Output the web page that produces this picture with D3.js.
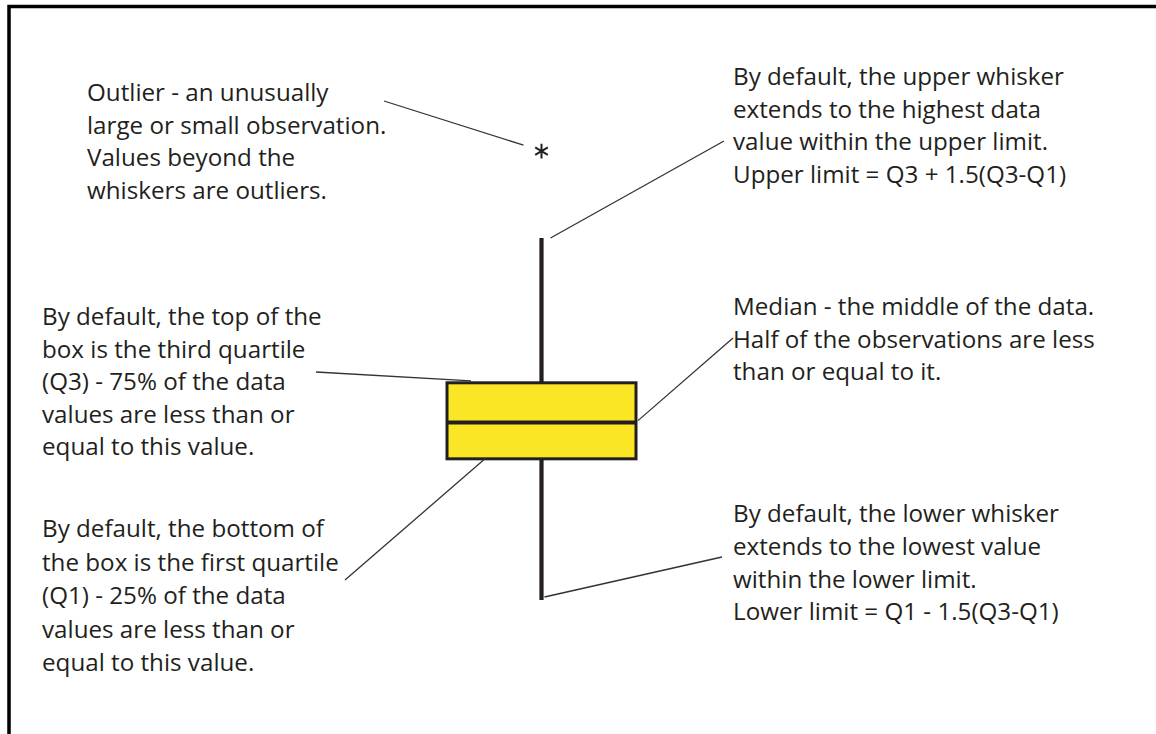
<!DOCTYPE html>
<html>
<head>
<meta charset="utf-8">
<script src="https://d3js.org/d3.v7.min.js"></script>
<style>
  body { margin: 0; background: #fff; }
  text { font-family: "Open Sans", sans-serif; font-size: 24.2px; fill: #231f20; }
</style>
</head>
<body>
<div id="boxplot"></div>
<script>
// values of the schematic box plot
const categories = ["data"];
const lowWhisker = [0];
const q1 = [39];
const median = [49];
const q3 = [60];
const highWhisker = [100];
const outliers = [124];

const width = 1156, height = 734;

const svg = d3.select("#boxplot").append("svg")
  .attr("width", width)
  .attr("height", height);

// frame: top and left edges only
svg.append("path")
  .attr("d", `M9,${height} V6.5 H${width}`)
  .attr("fill", "none")
  .attr("stroke", "#000")
  .attr("stroke-width", 3.5);

const x = d3.scaleBand().domain(categories).range([447, 636]).padding(0);
const y = d3.scaleLinear().domain([0, 100]).range([600, 238]);

const cx = x(categories[0]) + x.bandwidth() / 2;
const left = x(categories[0]), right = left + x.bandwidth();

const g = svg.append("g");

// whisker
g.append("line")
  .attr("x1", cx).attr("x2", cx)
  .attr("y1", y(lowWhisker[0])).attr("y2", y(highWhisker[0]))
  .attr("stroke", "#231f20")
  .attr("stroke-width", 4.2);

// box
g.append("rect")
  .attr("x", left)
  .attr("y", y(q3[0]))
  .attr("width", x.bandwidth())
  .attr("height", y(q1[0]) - y(q3[0]))
  .attr("fill", "#fbe626")
  .attr("stroke", "#231f20")
  .attr("stroke-width", 3);

// median
g.append("line")
  .attr("x1", left).attr("x2", right)
  .attr("y1", y(median[0])).attr("y2", y(median[0]))
  .attr("stroke", "#231f20")
  .attr("stroke-width", 4);

// outlier
g.selectAll(".outlier")
  .data(outliers)
  .enter().append("path")
  .attr("class", "outlier")
  .attr("transform", d => `translate(${cx},${y(d)})`)
  .attr("d", d3.symbol(d3.symbolAsterisk, 150))
  .attr("fill", "none")
  .attr("stroke", "#231f20")
  .attr("stroke-width", 2);

// annotations: text block + leader line to a point on the plot
const notes = [
  { x: 87, y: 101, step: 32.6,
    lines: ["Outlier - an unusually", "large or small observation.", "Values beyond the", "whiskers are outliers."],
    from: [384, 101], to: [cx - 18, y(outliers[0]) - 6] },
  { x: 733, y: 85, step: 32.6,
    lines: ["By default, the upper whisker", "extends to the highest data", "value within the upper limit.", "Upper limit = Q3 + 1.5(Q3-Q1)"],
    from: [724, 141], to: [cx + 9, y(highWhisker[0])] },
  { x: 42, y: 325, step: 32.5,
    lines: ["By default, the top of the", "box is the third quartile", "(Q3) - 75% of the data", "values are less than or", "equal to this value."],
    from: [316, 372], to: [left + 24, y(q3[0]) - 2] },
  { x: 733, y: 315, step: 32.6,
    lines: ["Median - the middle of the data.", "Half of the observations are less", "than or equal to it."],
    from: [733, 338], to: [right + 2, y(median[0]) - 2] },
  { x: 42, y: 537, step: 33.5,
    lines: ["By default, the bottom of", "the box is the first quartile", "(Q1) - 25% of the data", "values are less than or", "equal to this value."],
    from: [345, 580], to: [left + 38, y(q1[0])] },
  { x: 733, y: 522, step: 32.8,
    lines: ["By default, the lower whisker", "extends to the lowest value", "within the lower limit.", "Lower limit = Q1 - 1.5(Q3-Q1)"],
    from: [722, 557], to: [cx + 3, y(lowWhisker[0]) - 3] }
];

const ann = svg.append("g");

ann.selectAll("line")
  .data(notes)
  .enter().append("line")
  .attr("x1", d => d.from[0]).attr("y1", d => d.from[1])
  .attr("x2", d => d.to[0]).attr("y2", d => d.to[1])
  .attr("stroke", "#333")
  .attr("stroke-width", 1.3);

const blocks = ann.selectAll("text")
  .data(notes)
  .enter().append("text")
  .attr("x", d => d.x)
  .attr("y", d => d.y);

blocks.selectAll("tspan")
  .data(d => d.lines.map((t, i) => ({ t, i, x: d.x, y: d.y + i * d.step })))
  .enter().append("tspan")
  .attr("x", d => d.x)
  .attr("y", d => d.y)
  .text(d => d.t);
</script>
</body>
</html>
